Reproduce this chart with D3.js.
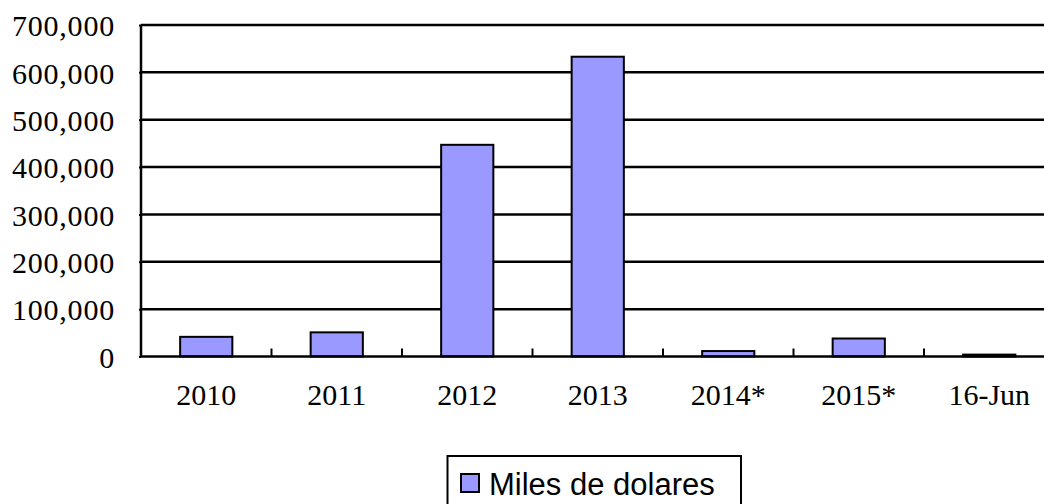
<!DOCTYPE html>
<html><head><meta charset="utf-8">
<script src="https://cdn.jsdelivr.net/npm/d3@7/dist/d3.min.js"></script>
<style>html,body{margin:0;padding:0;background:#fff;overflow:hidden}</style>
</head><body>
<svg id="c" width="1044" height="504"></svg>
<script>
const categories = ["2010","2011","2012","2013","2014*","2015*","16-Jun"];
const values = [41500, 51000, 447000, 633000, 11500, 38000, 4000];
const yTicks = [0,100000,200000,300000,400000,500000,600000,700000];
const seriesName = "Miles de dolares";

const svg = d3.select("#c");
const plotLeft = 141, plotTop = 25, plotBottom = 356.5, step = 130.5;
const plotRight = plotLeft + step * categories.length;

const x = d3.scaleBand().domain(categories).range([plotLeft, plotRight]).paddingInner(0.6).paddingOuter(0.3);
const y = d3.scaleLinear().domain([0, 700000]).range([plotBottom, plotTop]);
const fmt = d3.format(",");

// gridlines
svg.append("g").selectAll("line").data(yTicks.filter(d => d > 0)).join("line")
  .attr("x1", plotLeft).attr("x2", plotRight)
  .attr("y1", d => y(d)).attr("y2", d => y(d))
  .attr("stroke", "#000").attr("stroke-width", 2.5);

// bars
svg.append("g").selectAll("rect").data(values).join("rect")
  .attr("x", (d,i) => x(categories[i]))
  .attr("width", x.bandwidth())
  .attr("y", d => y(d))
  .attr("height", d => y(0) - y(d))
  .attr("fill", "#9999FF").attr("stroke", "#000").attr("stroke-width", 2);

// y axis
const yAxis = svg.append("g").attr("transform", `translate(${plotLeft},0)`)
  .call(d3.axisLeft(y).tickValues(yTicks).tickFormat(fmt).tickSize(2).tickPadding(24));
yAxis.select(".domain").attr("stroke-width", 2.5).attr("d", `M0,${plotBottom}V${plotTop}`);
yAxis.selectAll(".tick line").attr("stroke-width", 2);
yAxis.selectAll("text").attr("font-family", "'Liberation Serif', serif").attr("font-size", 30)
  .attr("fill", "#000").attr("dy", "0.36em").attr("letter-spacing", 0.8);

// x axis
const xAxis = svg.append("g").attr("transform", `translate(0,${plotBottom})`)
  .call(d3.axisBottom(x).tickSize(0).tickPadding(48));
xAxis.select(".domain").attr("stroke-width", 2.5).attr("d", `M${plotLeft},0H${plotRight}`);
xAxis.selectAll("text").attr("font-family", "'Liberation Serif', serif").attr("font-size", 30)
  .attr("fill", "#000").attr("dy", "0");
// category separator ticks
const seps = categories.slice(1).map((c,i) => x(c) - x.step()*x.paddingInner()/2);
xAxis.append("g").selectAll("line").data(seps).join("line")
  .attr("x1", d => d).attr("x2", d => d).attr("y1", 0).attr("y2", -8)
  .attr("stroke", "#000").attr("stroke-width", 2);

// legend
const lg = svg.append("g");
lg.append("rect").attr("x", 447.5).attr("y", 456).attr("width", 293.5).attr("height", 60)
  .attr("fill", "#fff").attr("stroke", "#000").attr("stroke-width", 2);
lg.append("rect").attr("x", 461).attr("y", 474).attr("width", 18).attr("height", 18)
  .attr("fill", "#9999FF").attr("stroke", "#000").attr("stroke-width", 2);
lg.append("text").attr("x", 489).attr("y", 495).text(seriesName)
  .attr("font-family", "'Liberation Sans', Arial, sans-serif").attr("font-size", 31).attr("fill", "#000");
</script>
</body></html>
